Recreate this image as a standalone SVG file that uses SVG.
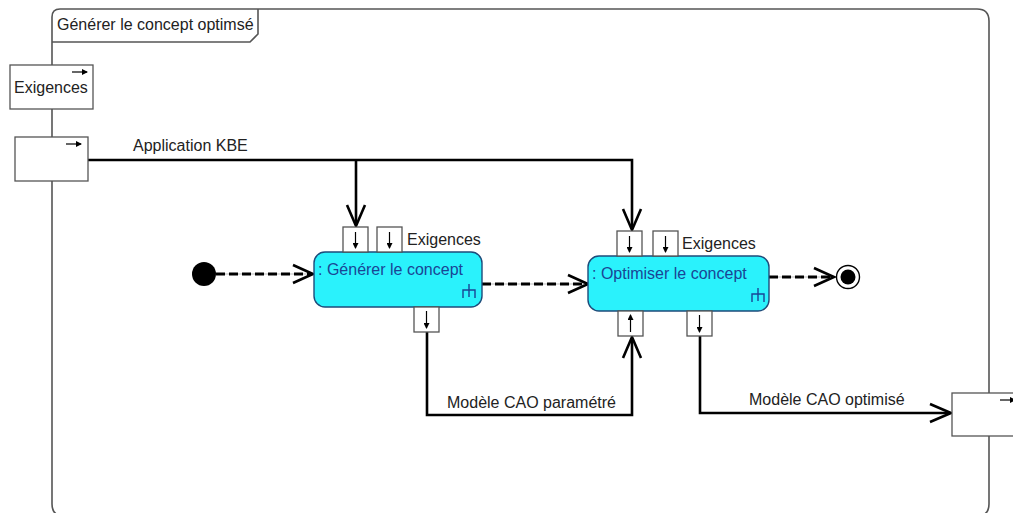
<svg xmlns="http://www.w3.org/2000/svg" width="1013" height="513" viewBox="0 0 1013 513">
<style>
text{font-family:"Liberation Sans",Arial,sans-serif;font-size:16px;fill:#222}
.frame{fill:none;stroke:#555;stroke-width:1.6}
.pin{fill:#fff;stroke:#555;stroke-width:1.3}
.act{fill:#2AF2FC;stroke:#1e4b7a;stroke-width:1.4}
.at{fill:#1a4595}
.ic{fill:none;stroke:#1a4595;stroke-width:1.4}
.flow{fill:none;stroke:#000;stroke-width:2.6}
.ah{fill:none;stroke:#000;stroke-width:2.6;stroke-linejoin:miter}
.dash{fill:none;stroke:#000;stroke-width:3;stroke-dasharray:9 4}
.dashbg{fill:none;stroke:#bbb;stroke-width:1.2}
.sa{stroke:#000;stroke-width:1.2}
</style>
<defs>
<marker id="sm" markerWidth="6" markerHeight="6" refX="5" refY="3" orient="auto" markerUnits="userSpaceOnUse"><path d="M0,0 L6,3 L0,6 z" fill="#000"/></marker>
</defs>

<g id="frame">
<path class="frame" d="M52,17 Q52,9 60,9 H977 Q989,9 989,21 V504 Q989,516 977,516 H64 Q52,516 52,504 Z"/>
<path class="frame" d="M52,42 H250 L258,34 V9"/>
<text x="57" y="30">Générer le concept optimsé</text>
</g>

<g id="connectors">
<path class="flow" d="M88,160 H632 V229"/>
<path class="flow" d="M356,160 V225"/>
<path class="ah" d="M347,205 L356,226 L365,205"/>
<path class="ah" d="M623,209 L632,230 L641,209"/>
<path class="flow" d="M427,332 V415 H632 V338"/>
<path class="ah" d="M623,358 L632,337 L641,358"/>
<path class="flow" d="M700,336 V413 H950"/>
<path class="ah" d="M930,404 L951,413 L930,422"/>
<path class="dashbg" d="M216,274 H311"/>
<path class="dash" d="M216,274 H311"/>
<path class="ah" d="M293,265 L313,274 L293,283"/>
<path class="dashbg" d="M482,284 H586"/>
<path class="dash" d="M482,284 H586"/>
<path class="ah" d="M568,275 L588,284 L568,293"/>
<path class="dashbg" d="M769,277 H832"/>
<path class="dash" d="M769,277 H832"/>
<path class="ah" d="M814,268 L834,277 L814,286"/>
<text x="133" y="151">Application KBE</text>
<text x="447" y="408">Modèle CAO paramétré</text>
<text x="749" y="405">Modèle CAO optimisé</text>
</g>

<g id="param-exigences">
<rect class="pin" x="10" y="65" width="83" height="44"/>
<line class="sa" x1="72" y1="72" x2="87" y2="72" marker-end="url(#sm)"/>
<text x="14" y="93">Exigences</text>
</g>

<g id="param-kbe">
<rect class="pin" x="15" y="137" width="73" height="44"/>
<line class="sa" x1="66" y1="144" x2="81" y2="144" marker-end="url(#sm)"/>
</g>

<g id="param-cao-optimise">
<rect class="pin" x="952" y="393" width="70" height="43"/>
<line class="sa" x1="1000" y1="400" x2="1015" y2="400" marker-end="url(#sm)"/>
</g>

<g id="initial">
<circle cx="204" cy="274" r="12" fill="#000"/>
</g>

<g id="final">
<circle cx="848" cy="277" r="11.5" fill="#fff" stroke="#000" stroke-width="1.4"/>
<circle cx="848" cy="277" r="7.5" fill="#000"/>
</g>

<g id="generer">
<rect class="act" x="314" y="252" width="168" height="55" rx="11"/>
<text class="at" x="318" y="275">: Générer le concept</text>
<path class="ic" d="M469,284 V297 M463,298 V290 H475 V298"/>
<rect class="pin" x="343" y="227" width="25" height="25"/>
<line class="sa" x1="355.5" y1="232" x2="355.5" y2="248" marker-end="url(#sm)"/>
<rect class="pin" x="377" y="227" width="25" height="25"/>
<line class="sa" x1="389.5" y1="232" x2="389.5" y2="248" marker-end="url(#sm)"/>
<text x="407" y="245">Exigences</text>
<rect class="pin" x="414" y="307" width="25" height="25"/>
<line class="sa" x1="426.5" y1="311" x2="426.5" y2="328" marker-end="url(#sm)"/>
</g>

<g id="optimiser">
<rect class="act" x="588" y="256" width="181" height="55" rx="11"/>
<text class="at" x="592" y="279">: Optimiser le concept</text>
<path class="ic" d="M758,288 V301 M752,302 V294 H764 V302"/>
<rect class="pin" x="617" y="231" width="25" height="25"/>
<line class="sa" x1="629.5" y1="236" x2="629.5" y2="252" marker-end="url(#sm)"/>
<rect class="pin" x="653" y="231" width="25" height="25"/>
<line class="sa" x1="665.5" y1="236" x2="665.5" y2="252" marker-end="url(#sm)"/>
<text x="682" y="249">Exigences</text>
<rect class="pin" x="618" y="311" width="25" height="25"/>
<line class="sa" x1="630.5" y1="332" x2="630.5" y2="315" marker-end="url(#sm)"/>
<rect class="pin" x="687" y="311" width="25" height="25"/>
<line class="sa" x1="699.5" y1="315" x2="699.5" y2="332" marker-end="url(#sm)"/>
</g>
</svg>
